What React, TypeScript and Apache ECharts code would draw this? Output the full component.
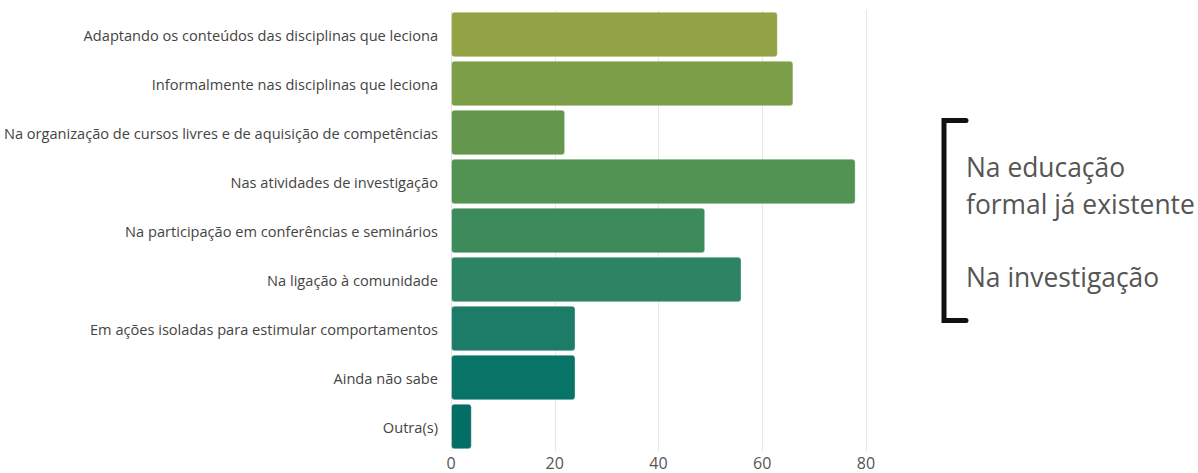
import React, { useEffect, useRef } from "react";
import * as echarts from "echarts";

const categories = [
  "Adaptando os conteúdos das disciplinas que leciona",
  "Informalmente nas disciplinas que leciona",
  "Na organização de cursos livres e de aquisição de competências",
  "Nas atividades de investigação",
  "Na participação em conferências e seminários",
  "Na ligação à comunidade",
  "Em ações isoladas para estimular comportamentos",
  "Ainda não sabe",
  "Outra(s)",
];
const values = [63, 66, 22, 78, 49, 56, 24, 24, 4];
const colors = [
  "#93A244",
  "#7C9E48",
  "#64964D",
  "#529253",
  "#3D8A5B",
  "#2D8462",
  "#1C7C67",
  "#087468",
  "#036D66",
];
const annotationLines = ["Na educação", "formal já existente", "Na investigação"];

export default function App() {
  const ref = useRef<HTMLDivElement>(null);
  useEffect(() => {
    if (!ref.current) return;
    const chart = echarts.init(ref.current, null, { renderer: "svg" });
    const font = "'Open Sans', 'Noto Sans', sans-serif";
    chart.setOption({
      animation: false,
      textStyle: { fontFamily: font },
      grid: { left: 451, right: 332, top: 10, bottom: 22, containLabel: false },
      xAxis: {
        type: "value",
        min: 0,
        max: 80,
        interval: 20,
        axisLine: { show: false },
        axisTick: { show: false },
        axisLabel: { color: "#555", fontSize: 16, fontFamily: font, margin: 4 },
        splitLine: { lineStyle: { color: "#e6e6e6", width: 1 } },
      },
      yAxis: {
        type: "category",
        inverse: true,
        data: categories,
        axisLine: { show: false },
        axisTick: { show: false },
        axisLabel: { color: "#444", fontSize: 14.6, fontFamily: font, margin: 13 },
        splitLine: { show: false },
      },
      series: [
        {
          type: "bar",
          barCategoryGap: "7%",
          data: values.map((v, i) => ({
            value: v,
            itemStyle: {
              color: colors[i],
              borderRadius: 3,
              borderColor: "rgba(255,255,255,0.35)",
              borderWidth: 1,
            },
          })),
        },
      ],
      graphic: [
        {
          type: "polyline",
          shape: { points: [[966, 120.5], [944, 120.5], [944, 320.5], [966, 320.5]] },
          style: { stroke: "#111", lineWidth: 5, fill: null, lineCap: "round", lineJoin: "miter" },
        },
        ...annotationLines.map((t, i) => ({
          type: "text",
          x: 966,
          y: [167, 204, 277][i],
          style: {
            text: t,
            fill: "#555",
            font: `26.4px ${font}`,
            verticalAlign: "middle",
            align: "left",
          },
        })),
      ],
    });
    return () => chart.dispose();
  }, []);
  return (
    <div
      ref={ref}
      style={{ position: "absolute", left: 0, top: 0, width: 1198, height: 473 }}
    />
  );
}
